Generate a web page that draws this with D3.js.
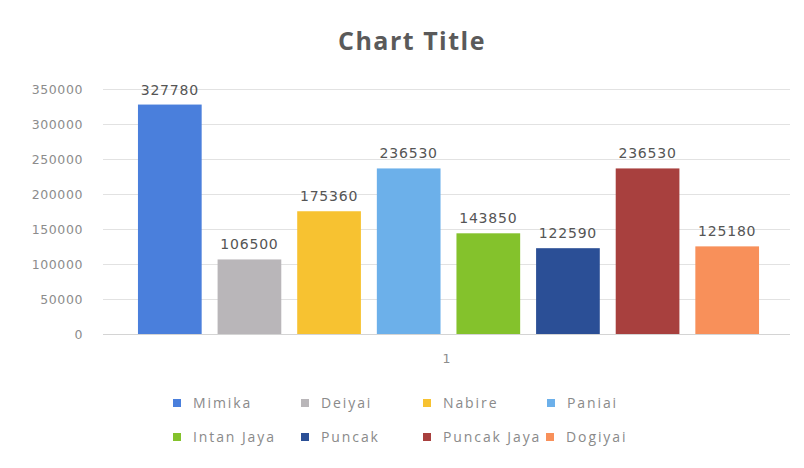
<!DOCTYPE html>
<html>
<head>
<meta charset="utf-8">
<script src="https://cdn.jsdelivr.net/npm/d3@7"></script>
<style>
  html, body { margin: 0; padding: 0; background: #ffffff; }
  svg { display: block; }
</style>
</head>
<body>
<svg id="chart" width="804" height="468"></svg>
<script>
// Regency names, one series each, all in the single category "1"
const regencies = ["Mimika", "Deiyai", "Nabire", "Paniai", "Intan Jaya", "Puncak", "Puncak Jaya", "Dogiyai"];
const values = [327780, 106500, 175360, 236530, 143850, 122590, 236530, 125180];
const colors = ["#4a7fdc", "#b9b6b9", "#f7c231", "#6cb0ea", "#84c22c", "#2b4f96", "#a8403e", "#f8905a"];
const yTicks = [0, 50000, 100000, 150000, 200000, 250000, 300000, 350000];
const categoryLabel = "1";
const chartTitle = "Chart Title";

const svg = d3.select("#chart");

const plot = { left: 103, right: 790, top: 89, bottom: 334 };

const x = d3.scaleBand()
  .domain(regencies)
  .range([130, 767])
  .paddingInner(0.2)
  .paddingOuter(0.1);

const y = d3.scaleLinear()
  .domain([0, 350000])
  .range([plot.bottom, plot.top]);

// Title
svg.append("text")
  .attr("x", 412)
  .attr("y", 50)
  .attr("text-anchor", "middle")
  .style("font-family", "'Open Sans', sans-serif")
  .style("font-weight", "bold")
  .style("font-size", "25px")
  .style("letter-spacing", "1.5px")
  .style("fill", "#5a5a5a")
  .text(chartTitle);

// Horizontal gridlines
svg.append("g")
  .selectAll("line")
  .data(yTicks)
  .join("line")
  .attr("x1", plot.left)
  .attr("x2", plot.right)
  .attr("y1", d => Math.round(y(d)) + 0.5)
  .attr("y2", d => Math.round(y(d)) + 0.5)
  .attr("stroke", d => d === 0 ? "#d4d4d4" : "#e2e2e2")
  .attr("stroke-width", 1);

// Y axis labels
const yAxis = d3.axisLeft(y).tickValues(yTicks).tickSize(0).tickPadding(0).tickFormat(d3.format("d"));
const yg = svg.append("g")
  .attr("transform", `translate(83,0)`)
  .call(yAxis);
yg.select(".domain").remove();
yg.selectAll("text")
  .style("font-family", "'DejaVu Sans', sans-serif")
  .style("font-size", "12.5px")
  .style("letter-spacing", "0.6px")
  .style("fill", "#8c8c8c");

// Bars
svg.append("g")
  .selectAll("rect")
  .data(regencies)
  .join("rect")
  .attr("x", d => x(d))
  .attr("width", x.bandwidth())
  .attr("y", (d, i) => y(values[i]))
  .attr("height", (d, i) => y(0) - y(values[i]))
  .attr("fill", (d, i) => colors[i]);

// Value labels
svg.append("g")
  .selectAll("text")
  .data(regencies)
  .join("text")
  .attr("x", d => x(d) + x.bandwidth() / 2)
  .attr("y", (d, i) => y(values[i]) - 10)
  .attr("text-anchor", "middle")
  .style("font-family", "'DejaVu Sans', sans-serif")
  .style("font-size", "14px")
  .style("letter-spacing", "0.8px")
  .style("fill", "#555555")
  .text((d, i) => values[i]);

// Category axis label
svg.append("text")
  .attr("x", (plot.left + plot.right) / 2)
  .attr("y", 363)
  .attr("text-anchor", "middle")
  .style("font-family", "'DejaVu Sans', sans-serif")
  .style("font-size", "12.5px")
  .style("fill", "#8c8c8c")
  .text(categoryLabel);

// Legend: two rows of four
const legendCols = [173, 301, 423, 547];
const legendColsRow2 = [173, 301, 423, 546];
const legendRows = [403, 437];
const legend = svg.append("g")
  .selectAll("g")
  .data(regencies)
  .join("g")
  .attr("transform", (d, i) => {
    const row = Math.floor(i / 4);
    const col = i % 4;
    const cx = row === 0 ? legendCols[col] : legendColsRow2[col];
    return `translate(${cx},${legendRows[row]})`;
  });

legend.append("rect")
  .attr("x", 0)
  .attr("y", -4)
  .attr("width", 8)
  .attr("height", 8)
  .attr("fill", (d, i) => colors[i]);

legend.append("text")
  .attr("x", 20)
  .attr("y", 0)
  .attr("dy", "0.35em")
  .style("font-family", "'Open Sans', sans-serif")
  .style("font-size", "14px")
  .style("letter-spacing", "1.9px")
  .style("fill", "#8a8a8a")
  .text(d => d);
</script>
</body>
</html>
